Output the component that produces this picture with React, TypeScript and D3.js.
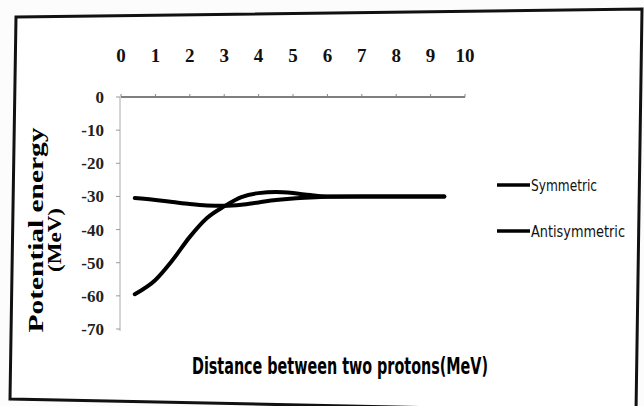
import React from "react";
import * as d3 from "d3";

const xTicks = [0, 1, 2, 3, 4, 5, 6, 7, 8, 9, 10];
const yTicks = [0, -10, -20, -30, -40, -50, -60, -70];

const distance = [0.4, 1, 1.5, 2, 2.5, 3, 3.5, 4, 4.5, 5, 5.5, 6, 7, 8, 9, 9.4];
const symmetric = [-59.5, -55.2, -49.2, -42.2, -36.5, -33, -30.2, -29, -28.7, -29, -29.6, -30, -30, -30, -30, -30];
const antisymmetric = [-30.5, -31.1, -31.7, -32.3, -32.7, -32.8, -32.5, -31.8, -31.1, -30.6, -30.3, -30.1, -30, -30, -30, -30];

const seriesNames = ["Symmetric", "Antisymmetric"];

const xTitle = "Distance between two protons(MeV)";
const yTitle1 = "Potential energy";
const yTitle2 = "(MeV)";

export default function App() {
  const W = 644;
  const H = 406;
  const x = d3.scaleLinear().domain([0, 10]).range([121, 465]);
  const y = d3.scaleLinear().domain([0, -70]).range([97, 329]);

  const line = d3
    .line<number>()
    .x((_, i) => x(distance[i]))
    .y((d) => y(d))
    .curve(d3.curveMonotoneX);

  const narrow = "'Liberation Sans Narrow', 'DejaVu Sans Condensed', 'Liberation Sans', sans-serif";
  const serif = "'Liberation Serif', 'DejaVu Serif', serif";

  return (
    <svg
      width={W}
      height={H}
      style={{ position: "absolute", left: 0, top: 0, background: "#fff" }}
    >
      <rect x={0} y={0} width={W} height={H} fill="#fcfcfc" />
      <polygon
        points="16,17 642,9 636,412 10,399"
        fill="#ffffff"
        stroke="#111"
        strokeWidth={3}
      />

      {/* x axis line (at y=0) */}
      <line x1={x(0)} x2={x(10)} y1={y(0)} y2={y(0)} stroke="#555" strokeWidth={1.3} />
      {xTicks.map((t) => (
        <line key={"xt" + t} x1={x(t)} x2={x(t)} y1={y(0)} y2={y(0) - 3} stroke="#888" strokeWidth={1} />
      ))}
      {xTicks.map((t) => (
        <text
          key={"xl" + t}
          x={x(t)}
          y={62}
          textAnchor="middle"
          fontFamily={serif}
          fontWeight="bold"
          fontSize={19}
          fill="#111"
        >
          {t}
        </text>
      ))}

      {/* y axis */}
      <line x1={x(0) - 1} x2={x(0) - 1} y1={y(0)} y2={y(-70) + 2} stroke="#aaa" strokeWidth={1} />
      {yTicks.map((t) => (
        <line key={"yt" + t} x1={x(0) - 5} x2={x(0) - 1} y1={y(t)} y2={y(t)} stroke="#999" strokeWidth={1} />
      ))}
      {yTicks.map((t) => (
        <text
          key={"yl" + t}
          x={104}
          y={y(t) + 6}
          textAnchor="end"
          fontFamily={serif}
          fontWeight="bold"
          fontSize={17}
          fill="#222"
        >
          {t}
        </text>
      ))}

      {/* series */}
      <path d={line(antisymmetric) || ""} fill="none" stroke="#000" strokeWidth={4} strokeLinecap="round" />
      <path d={line(symmetric) || ""} fill="none" stroke="#000" strokeWidth={4} strokeLinecap="round" />

      {/* legend */}
      {seriesNames.map((n, i) => (
        <g key={n}>
          <line x1={497} x2={530} y1={185 + i * 46} y2={185 + i * 46} stroke="#000" strokeWidth={3.5} />
          <text
            x={531}
            y={191 + i * 46}
            fontFamily={narrow}
            fontSize={15}
            fill="#111"
            textLength={i === 0 ? 66 : 94}
            lengthAdjust="spacingAndGlyphs"
          >
            {n}
          </text>
        </g>
      ))}

      {/* axis titles */}
      <text
        x={192}
        y={374}
        fontFamily={narrow}
        fontWeight="bold"
        fontSize={23}
        fill="#000"
        textLength={296}
        lengthAdjust="spacingAndGlyphs"
      >
        {xTitle}
      </text>
      <text
        transform="translate(43,230) rotate(-90)"
        textAnchor="middle"
        fontFamily={serif}
        fontWeight="bold"
        fontSize={21}
        fill="#000"
        textLength={205}
        lengthAdjust="spacingAndGlyphs"
      >
        {yTitle1}
      </text>
      <text
        transform="translate(61,240) rotate(-90)"
        textAnchor="middle"
        fontFamily={serif}
        fontWeight="bold"
        fontSize={18}
        fill="#000"
        textLength={64}
        lengthAdjust="spacingAndGlyphs"
      >
        {yTitle2}
      </text>
    </svg>
  );
}
